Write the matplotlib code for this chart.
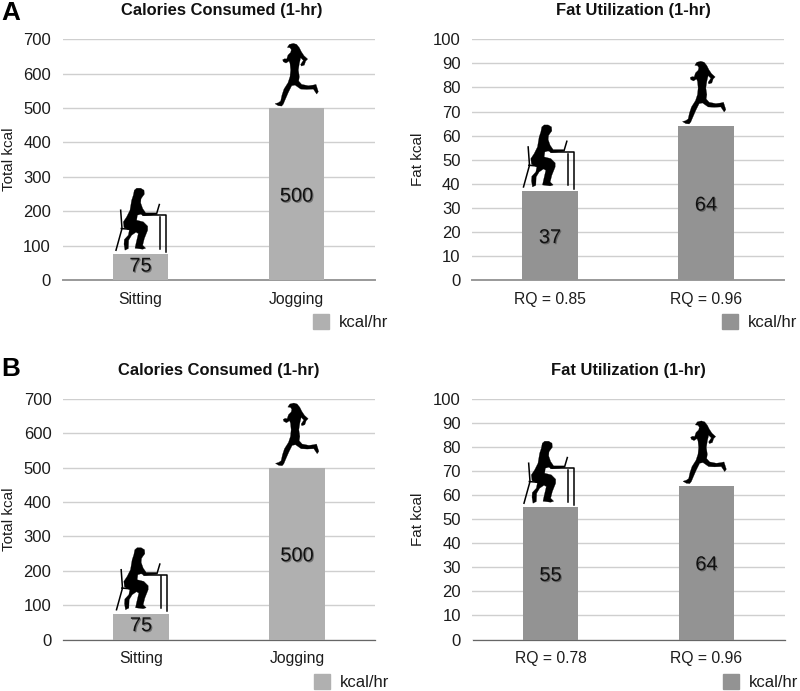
import numpy as np
from matplotlib import pyplot as plt
from matplotlib.patches import Polygon, Patch
from matplotlib.transforms import Affine2D, ScaledTranslation
import matplotlib.patheffects as pe

plt.rcParams['font.family'] = ['Liberation Sans', 'DejaVu Sans']

W, H = 800, 691

activities = ["Sitting", "Jogging"]
rq_a = ["RQ = 0.85", "RQ = 0.96"]
rq_b = ["RQ = 0.78", "RQ = 0.96"]
total_kcal = [75, 500]
fat_kcal_a = [37, 64]
fat_kcal_b = [55, 64]
total_ticks = [0, 100, 200, 300, 400, 500, 600, 700]
fat_ticks = [0, 10, 20, 30, 40, 50, 60, 70, 80, 90, 100]

LIGHT = "#b0b0b0"
DARK = "#939393"
TEXT = "#1c1c1c"

runner = (np.array([(45,206),(55,203),(62,198),(66,180),(72,162),(84,143),(90,125),(92,105),(90,85),(87,78),
                    (78,84),(70,80),(68,74),(74,71),(80,72),(84,60),(92,52),(94,44),(90,38),(82,37),(88,28),
                    (100,25),(110,28),(118,38),(124,50),(132,62),(143,72),(137,78),(133,90),(124,93),(122,88),
                    (130,76),(122,68),(118,85),(115,105),(118,125),(116,138),(125,148),(145,152),(160,150),
                    (168,148),(175,170),(170,177),(160,162),(140,163),(122,162),(105,150),(95,152),(85,172),
                    (75,195),(70,207),(65,213),(55,212)]) / 3 + (260, 35) - (296.5, 108))
sitter = (np.array([(103,60),(110,54),(122,54),(132,60),(133,72),(127,80),(123,86),(122,98),(128,115),(137,128),
                    (168,128),(170,133),(132,137),(122,132),(112,135),(110,150),(130,155),(143,168),(143,180),
                    (133,205),(128,225),(137,234),(128,237),(105,234),(108,220),(115,190),(108,186),(95,195),
                    (86,210),(85,235),(75,240),(72,222),(73,208),(85,195),(88,180),(72,172),(70,155),(80,140),
                    (90,120),(95,90),(100,75)]) / 3 + (100, 170) - (140.5, 254))
sitter_lines = [np.array(l) / 3 + (100, 170) - (140.5, 254) for l in
                [[(62,120),(66,175),(48,240)], [(64,175),(100,178)], [(130,135),(198,135),(198,245)],
                 [(180,140),(180,235)], [(170,130),(178,103)]]]


def place_figure(ax, x, top, shape, lines=(), dx=0):
    # pixel shape hung on a data anchor, dpi is 100 so 1 unit = 1 px
    trans = Affine2D().scale(1, -1).translate(dx, 0) + ScaledTranslation(x, top, ax.transData)
    ax.add_patch(Polygon(shape, closed=True, fc="black", ec="black", lw=0.2, transform=trans, zorder=5, clip_on=False))
    for l in lines:
        ax.plot(l[:, 0], l[:, 1], color="black", lw=1.1, transform=trans, zorder=5, clip_on=False, scalex=False, scaley=False)


def panel(left, right, top, bottom, title, values, labels, ticks, ylabel, color, legend_x, legend_y,
          title_x, title_y, label_x, base_color, base_lw, dx):
    ax = fig.add_axes([left / W, 1 - bottom / H, (right - left) / W, (bottom - top) / H])
    ax.bar([0, 1], values, width=0.355, color=color, zorder=3)
    ax.set_xlim(-0.5, 1.5)
    ax.set_ylim(0, ticks[-1])
    ax.set_xticks([0, 1], labels)
    ax.set_yticks(ticks)
    ax.tick_params(length=0, labelsize=12, colors=TEXT)
    ax.tick_params(axis="x", pad=8.5, labelsize=11.3)
    ax.tick_params(axis="y", pad=8.3)
    ax.grid(axis="y", color="#cfcfcf", lw=1)
    ax.set_axisbelow(True)
    for s in ["top", "left", "right"]:
        ax.spines[s].set_visible(False)
    ax.spines["bottom"].set_color(base_color)
    ax.spines["bottom"].set_linewidth(base_lw)
    ax.set_ylabel(ylabel, fontsize=11, color=TEXT)
    ax.yaxis.set_label_coords((label_x - left) / (right - left), 0.5)
    fig.text(title_x / W, 1 - title_y / H, title, fontsize=11.9, fontweight="bold", ha="center", va="center", color="#111111")

    for i, v in enumerate(values):
        drop = -1 if v > 100 or v > 30 and ticks[-1] == 100 else 0.5
        ax.annotate(str(v), (i, v / 2), xytext=(0, drop * 1.5), textcoords="offset points", fontsize=14.4,
                    ha="center", va="center", color="#111111", zorder=6,
                    path_effects=[pe.withSimplePatchShadow(offset=(0.8, -0.8), shadow_rgbFace="#444444", alpha=0.6)])
    place_figure(ax, 0, values[0], sitter, sitter_lines, dx)
    place_figure(ax, 1, values[1], runner, dx=dx)

    fig.legend(handles=[Patch(color=color, label="kcal/hr")], loc="center left",
               bbox_to_anchor=(legend_x / W, 1 - legend_y / H), frameon=False, fontsize=12,
               handlelength=0.96, handleheight=0.96, handletextpad=0.6, borderpad=0, borderaxespad=0,
               labelcolor=TEXT)
    return ax


fig = plt.figure(figsize=(W / 100, H / 100), dpi=100)

panel(62.5, 374.5, 39.3, 280, "Calories Consumed (1-hr)", total_kcal, activities, total_ticks, "Total kcal", LIGHT,
      313, 322, 221.7, 11, 16.5, "#999999", 1.4, 0)
panel(472, 784, 39.3, 280, "Fat Utilization (1-hr)", fat_kcal_a, rq_a, fat_ticks, "Fat kcal", DARK,
      722, 322, 633, 11, 425, "#999999", 1.4, -2)
panel(63, 375, 399, 639.5, "Calories Consumed (1-hr)", total_kcal, activities, total_ticks, "Total kcal", LIGHT,
      313.5, 682, 219, 370, 16.5, "#666666", 0.9, 0)
panel(472.5, 784.5, 399, 639.5, "Fat Utilization (1-hr)", fat_kcal_b, rq_b, fat_ticks, "Fat kcal", DARK,
      722.5, 682, 628, 370, 425, "#666666", 0.9, -2)

fig.text(1 / W, 1 - 20 / H, "A", fontsize=18.8, fontweight="bold", ha="left", va="baseline", color="black")
fig.text(1 / W, 1 - 376 / H, "B", fontsize=18.8, fontweight="bold", ha="left", va="baseline", color="black")

fig.savefig("out.png", dpi=100)
